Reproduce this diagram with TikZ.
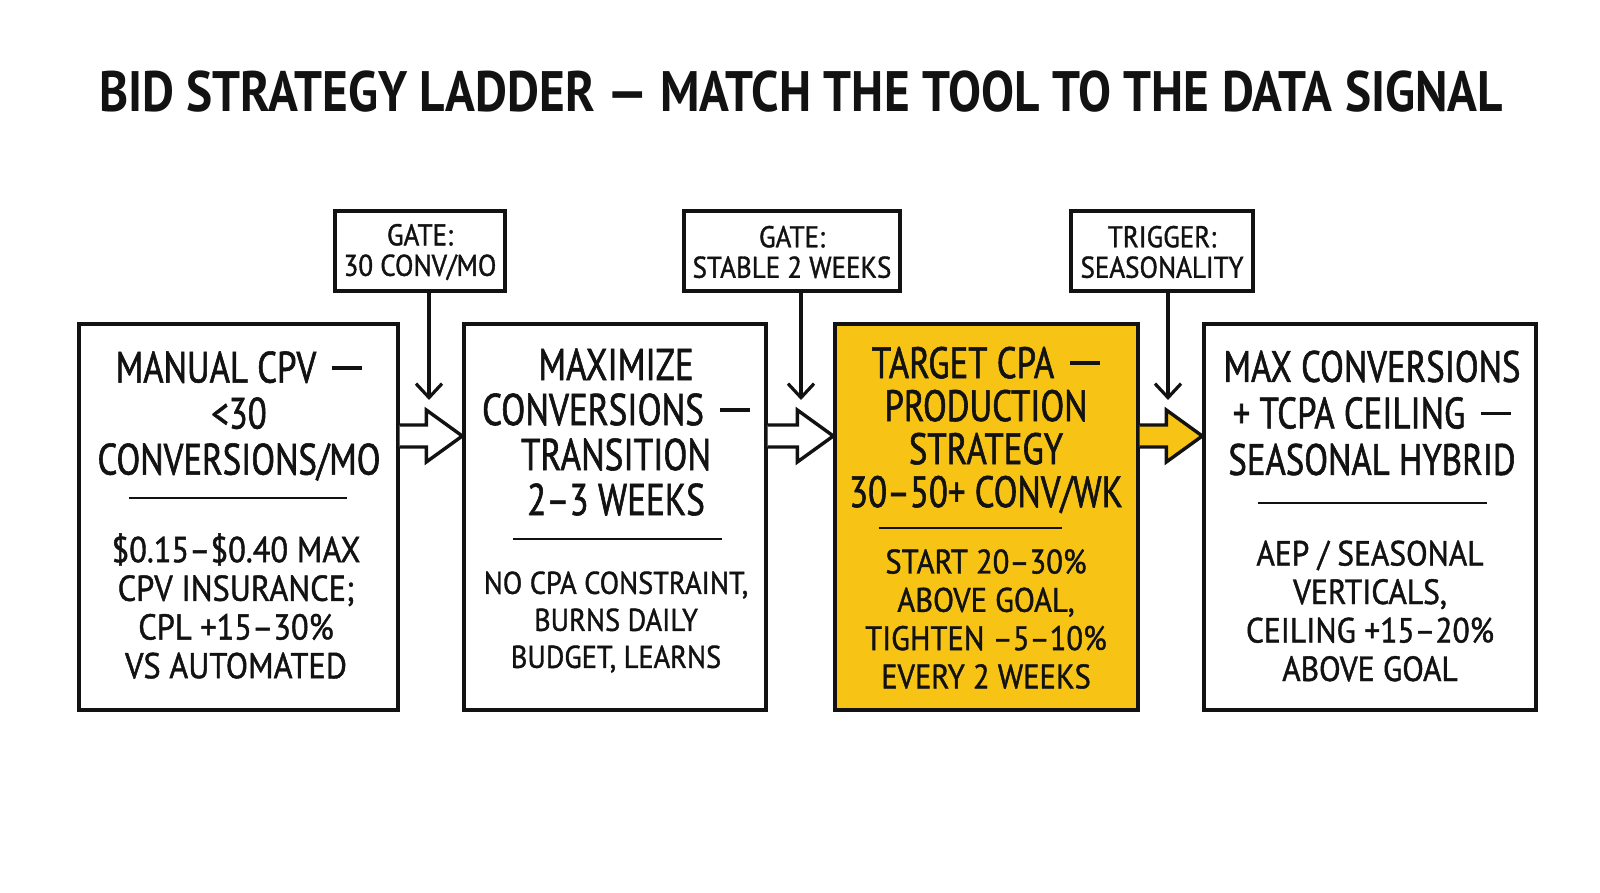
\documentclass[tikz,border=0pt]{standalone}
\usepackage{fontspec}
\setmainfont{PT Sans}[FakeStretch=0.83]
\newfontfamily\headfont{PT Sans}[FakeStretch=0.79,FakeBold=1.3]
\newfontfamily\bodyfont{PT Sans}[FakeStretch=0.9,FakeBold=1.2]
\newfontfamily\titlefont{PT Sans Bold}[FakeStretch=0.865]
\usetikzlibrary{arrows.meta,calc}
\definecolor{ink}{RGB}{18,18,18}
\definecolor{hilite}{RGB}{247,196,22}
\newcommand{\hdash}{\hspace{16pt}\rule[13pt]{30pt}{3.8pt}}
\newcommand{\blockarrow}[3]{%
  \draw[blockarr, fill=#3]
    ([yshift=92pt]#1.east) -- ([xshift=-36pt,yshift=92pt]#2.west)
    -- ([xshift=-36pt,yshift=107pt]#2.west) -- ([yshift=81pt]#2.west)
    -- ([xshift=-36pt,yshift=55pt]#2.west) -- ([xshift=-36pt,yshift=70pt]#2.west)
    -- ([yshift=70pt]#1.east);}
\begin{document}
\begin{tikzpicture}[x=1pt,y=-1pt,
  box/.style={draw=ink, line width=3.4pt, inner sep=0pt, fill=white},
  gatebox/.style={draw=ink, line width=3.2pt, inner sep=0pt, fill=white},
  headtxt/.style={text=ink, align=center, inner sep=0pt, font=\headfont\fontsize{44}{46}\selectfont},
  bodytxt/.style={text=ink, align=center, inner sep=0pt, font=\bodyfont\fontsize{35}{38.5}\selectfont},
  gatetxt/.style={text=ink, align=center, inner sep=0pt, font=\bodyfont\fontsize{30}{30.5}\selectfont},
  divider/.style={draw=ink, line width=2.6pt},
  blockarr/.style={draw=ink, line width=3.4pt, line join=miter},
  varr/.style={draw=ink, line width=3.2pt, -{Straight Barb[length=14pt,width=26pt,line width=3.2pt]}}]
\useasboundingbox[fill=white] (0,0) rectangle (1600,893);

% title
\node[text=ink, inner sep=0pt, font=\titlefont\fontsize{57}{60}\selectfont] (title) at (801,92)
  {BID STRATEGY LADDER — MATCH THE TOOL TO THE DATA SIGNAL};

% main boxes
\node[box, minimum width=319pt, minimum height=386pt] (b1) at (238.5,517) {};
\node[box, minimum width=302pt, minimum height=386pt] (b2) at (615,517) {};
\node[box, fill=hilite, minimum width=303pt, minimum height=386pt] (b3) at (986.5,517) {};
\node[box, minimum width=332pt, minimum height=386pt] (b4) at (1370,517) {};

% block arrows
\blockarrow{b1}{b2}{white}
\blockarrow{b2}{b3}{white}
\blockarrow{b3}{b4}{hilite}

% gate boxes
\node[gatebox, minimum width=170pt, minimum height=80pt] (g1) at (420,251) {};
\node[gatebox, minimum width=216pt, minimum height=80pt] (g2) at (792,251) {};
\node[gatebox, minimum width=182pt, minimum height=80pt] (g3) at (1162,251) {};
\node[gatetxt] (g1t) at (420,252) {GATE:\\30 CONV/MO};
\node[gatetxt] (g2t) at (792,252) {GATE:\\STABLE 2 WEEKS};
\node[gatetxt] (g3t) at (1162,252) {TRIGGER:\\SEASONALITY};

% vertical arrows
\coordinate (e1) at (429,400);
\coordinate (e2) at (801,400);
\coordinate (e3) at (1168,400);
\draw[varr] (g1.south -| e1) -- (e1);
\draw[varr] (g2.south -| e2) -- (e2);
\draw[varr] (g3.south -| e3) -- (e3);

% box 1 text
\node[headtxt] (h1) at (239,416) {MANUAL CPV\hdash\\<30\\CONVERSIONS/MO};
\draw[divider] ([xshift=-110pt]b1.center |- 0,498) coordinate (d1a) -- ([xshift=108pt]b1.center |- 0,498) coordinate (d1b);
\node[bodytxt, font=\bodyfont\fontsize{36}{38.7}\selectfont] (t1) at (236,606) {\$0.15–\$0.40 MAX\\CPV INSURANCE;\\CPL +15–30\%\\VS AUTOMATED};

% box 2 text
\node[headtxt, font=\headfont\fontsize{44.5}{45}\selectfont] (h2) at (616,432) {MAXIMIZE\\CONVERSIONS\hdash\\TRANSITION\\2–3 WEEKS};
\draw[divider] ([xshift=-102pt]b2.center |- 0,539) coordinate (d2a) -- ([xshift=107pt]b2.center |- 0,539) coordinate (d2b);
\node[bodytxt, font=\bodyfont\fontsize{31.5}{37}\selectfont] (t2) at (616,622) {NO CPA CONSTRAINT,\\BURNS DAILY\\BUDGET, LEARNS};

% box 3 text
\node[headtxt, font=\headfont\fontsize{44}{43}\selectfont] (h3) at (986,430) {TARGET CPA\hdash\\PRODUCTION\\STRATEGY\\30–50+ CONV/WK};
\draw[divider] ([xshift=-108pt]b3.center |- 0,528) coordinate (d3a) -- ([xshift=75pt]b3.center |- 0,528) coordinate (d3b);
\node[bodytxt, font=\bodyfont\fontsize{34}{38.3}\selectfont] (t3) at (986,619) {START 20–30\%\\ABOVE GOAL,\\TIGHTEN –5–10\%\\EVERY 2 WEEKS};

% box 4 text
\node[headtxt, font=\headfont\fontsize{44}{46.5}\selectfont] (h4) at (1372,413) {MAX CONVERSIONS\\+ TCPA CEILING\hdash\\SEASONAL HYBRID};
\draw[divider] ([xshift=-112pt]b4.center |- 0,503) coordinate (d4a) -- ([xshift=117pt]b4.center |- 0,503) coordinate (d4b);
\node[bodytxt] (t4) at (1370,611) {AEP / SEASONAL\\VERTICALS,\\CEILING +15–20\%\\ABOVE GOAL};
\end{tikzpicture}
\end{document}
